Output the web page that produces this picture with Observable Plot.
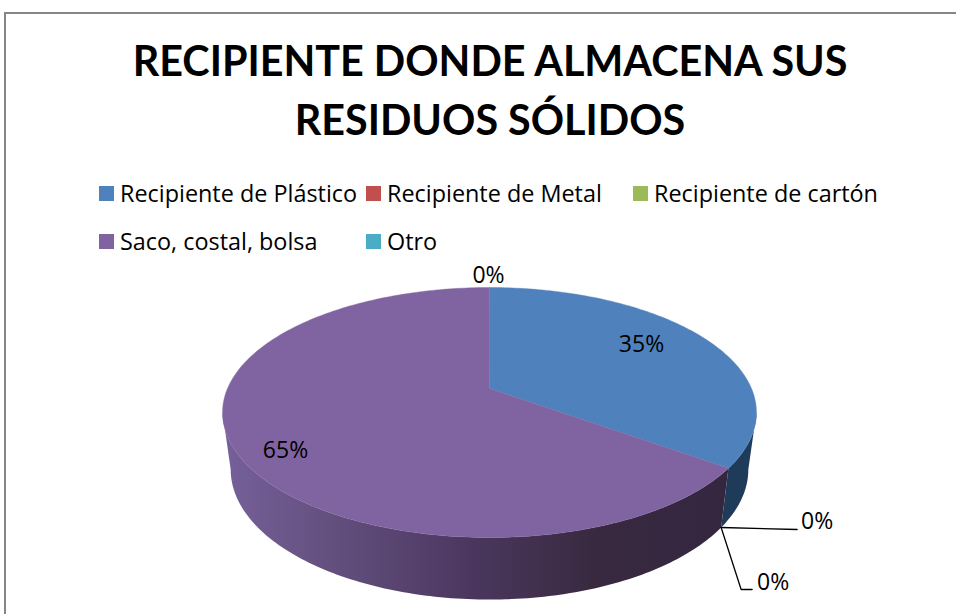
<!DOCTYPE html>
<html lang="es">
<head>
<meta charset="utf-8">
<title>Recipiente donde almacena sus residuos sólidos</title>
<script src="https://cdn.jsdelivr.net/npm/d3@7"></script>
<script src="https://cdn.jsdelivr.net/npm/@observablehq/plot@0.6"></script>
<style>
  html, body { margin: 0; padding: 0; background: #fff; width: 956px; height: 614px; overflow: hidden; }
  #frame { position: absolute; left: 4px; top: 12px; width: 952px; height: 602px;
           border-left: 2px solid #868686; border-top: 2px solid #868686; box-sizing: border-box; }
  h1 { position: absolute; left: 12px; top: 31px; width: 956px; margin: 0; text-align: center;
       font: 700 41.3px/59px Lato, sans-serif; color: #000; }
  #legend { position: absolute; left: 0; top: 0; width: 956px; height: 258px;
            font: 23.4px/48px "Open Sans", sans-serif; color: #000; }
  .item { position: absolute; white-space: nowrap; }
  .item i { position: absolute; left: -21px; top: 17px; width: 15px; height: 15px; }
  #plot { position: absolute; left: 0; top: 258px; }
  #plot svg { display: block; }
</style>
</head>
<body>
<div id="frame"></div>
<h1>RECIPIENTE DONDE ALMACENA SUS<br>RESIDUOS SÓLIDOS</h1>
<div id="legend"></div>
<div id="plot"></div>
<script>
const categories = ["Recipiente de Plástico", "Recipiente de Metal", "Recipiente de cartón", "Saco, costal, bolsa", "Otro"];
const values = [35, 0, 0, 65, 0];
const colors = ["#4F81BD", "#C0504D", "#9BBB59", "#8064A2", "#4BACC6"];

// legend layout
const legendX = [120, 387, 654, 120, 387];
const legendY = [169, 169, 169, 217, 217];

const legend = d3.select("#legend");
categories.forEach((c, i) => {
  const it = legend.append("div").attr("class", "item")
    .style("left", legendX[i] + "px").style("top", legendY[i] + "px").text(c);
  it.append("i").style("background", colors[i]);
});

// perspective projection of the pie disc
const W = 956, H = 356, TOP = 258, CX = 489, K = 0.192;
const topFace = {A: 262, B: 120.4, Y: 388};
const bottomFace = {A: 254, B: 125.3, Y: 444};
const project = (face, deg, r = 1) => {
  const a = deg * Math.PI / 180, u = r * Math.sin(a), t = -r * Math.cos(a), w = 1 - K * t;
  return {x: CX + face.A * u / w, y: face.Y + face.B * t / w};
};

// slice angles from the values
const total = d3.sum(values);
let acc = 0;
const slices = values.map((v, i) => {
  const start = acc / total * 360;
  acc += v;
  return {i, v, start, end: acc / total * 360, mid: (start + v / total * 180), label: `${v}%`};
});
const boundary = slices[0].end;

// top face polygons
const topPts = [];
for (const s of slices.filter(s => s.v > 0)) {
  topPts.push({id: s.i, color: colors[s.i], ...project(topFace, 0, 0)});
  for (const d of d3.range(s.start, s.end, 1).concat(s.end))
    topPts.push({id: s.i, color: colors[s.i], ...project(topFace, d)});
}

// side wall: one band for each slice, between the disc's silhouette points
const WALL_START = Math.acos(-K) * 180 / Math.PI;
const WALL_END = 360 - WALL_START;
const band = (from, to) => {
  const ds = d3.range(from, to, 1).concat(to);
  return ds.map(d => project(topFace, d))
    .concat(ds.slice().reverse().map(d => project(bottomFace, d)));
};
const wallBlue = band(WALL_START, boundary);
const wallPurple = band(boundary, WALL_END);

const gradient = (id, stops) => () => {
  const defs = d3.create("svg:defs");
  const g = defs.append("linearGradient").attr("id", id).attr("gradientUnits", "userSpaceOnUse")
    .attr("x1", 222).attr("x2", 756).attr("y1", 0).attr("y2", 0);
  stops.forEach(([o, c]) => g.append("stop").attr("offset", o).attr("stop-color", c));
  return defs.node();
};

// data labels anchored on each slice
const anchorEdge = project(bottomFace, boundary);
const labelMarks = [
  {s: slices[0], at: project(topFace, slices[0].mid, 0), dx: 152, dy: -44},
  {s: slices[1], at: anchorEdge, dx: 96, dy: -6},
  {s: slices[2], at: anchorEdge, dx: 52, dy: 55},
  {s: slices[3], at: project(topFace, slices[3].mid, 0), dx: -204, dy: 62},
  {s: slices[4], at: project(topFace, 0), dx: -1, dy: -12}
].map(d => ({label: d.s.label, x: d.at.x, y: d.at.y, dx: d.dx, dy: d.dy}));

// leader lines from the zero slices at the pie's edge
const leaders = [
  {id: 1, step: [[0, 0], [76, 2]]},
  {id: 2, step: [[0, 0], [20, 62], [31, 62]]}
].flatMap(l => l.step.map(([dx, dy]) => ({id: l.id, x: anchorEdge.x + dx, y: anchorEdge.y + dy})));

const chart = Plot.plot({
  width: W, height: H, margin: 0,
  x: {domain: [0, W], range: [0, W], axis: null},
  y: {domain: [TOP, TOP + H], range: [0, H], axis: null},
  style: {background: "transparent"},
  marks: [
    gradient("wall-blue", [[0, "#1f3b5a"], [1, "#1f3b5a"]]),
    gradient("wall-purple", [[0, "#76609a"], [0.2, "#64507f"], [0.45, "#4c3860"], [0.7, "#38293f"], [1, "#33263f"]]),
    Plot.line(wallBlue, {x: "x", y: "y", fill: "url(#wall-blue)", stroke: null, curve: "linear-closed"}),
    Plot.line(wallPurple, {x: "x", y: "y", fill: "url(#wall-purple)", stroke: null, curve: "linear-closed"}),
    Plot.line(topPts, {x: "x", y: "y", z: "id", fill: "color", stroke: "color", strokeWidth: 0.4, curve: "linear-closed"}),
    Plot.line(leaders, {x: "x", y: "y", z: "id", stroke: "#000", strokeWidth: 1.3}),
    ...labelMarks.map(d => Plot.text([d], {
      x: "x", y: "y", text: "label", dx: d.dx, dy: d.dy,
      fontFamily: "Open Sans", fontSize: 23, fill: "#000"
    }))
  ]
});
document.getElementById("plot").append(chart);
</script>
</body>
</html>
